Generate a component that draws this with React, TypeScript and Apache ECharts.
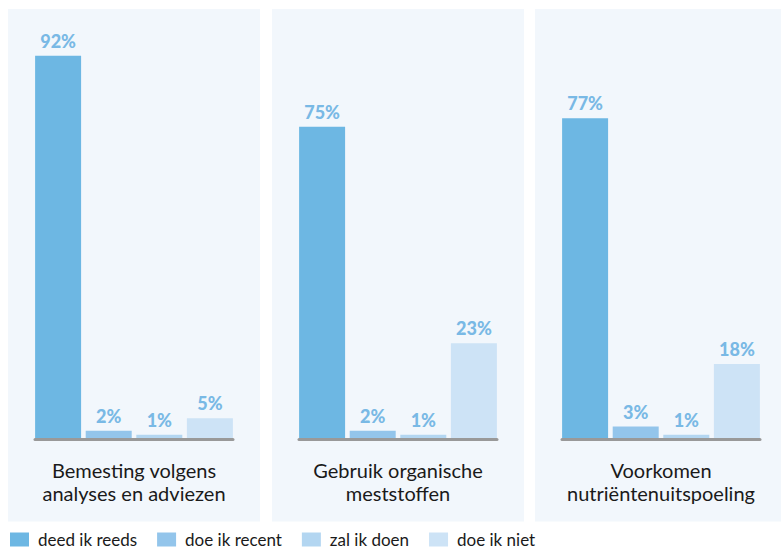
import React, { useEffect, useRef } from "react";
import * as echarts from "echarts";

const panels = [
  "Bemesting volgens\nanalyses en adviezen",
  "Gebruik organische\nmeststoffen",
  "Voorkomen\nnutriëntenuitspoeling",
];
const answers = ["deed ik reeds", "doe ik recent", "zal ik doen", "doe ik niet"];
const deedIkReeds = [92, 75, 77];
const doeIkRecent = [2, 2, 3];
const zalIkDoen = [1, 1, 1];
const doeIkNiet = [5, 23, 18];
const valuesByAnswer = [deedIkReeds, doeIkRecent, zalIkDoen, doeIkNiet];
const colors = ["#6db7e3", "#93c5eb", "#b3d6f1", "#cde3f6"];

const FONT = "Lato, 'Open Sans', sans-serif";
const panelLefts = [8, 272, 535];
const panelWidth = 252;

export default function App() {
  const ref = useRef<HTMLDivElement>(null);
  useEffect(() => {
    if (!ref.current) return;
    const chart = echarts.init(ref.current, undefined, { renderer: "svg" });
    const grids = panelLefts.map((l) => ({
      left: l + 27,
      width: 198,
      top: 22.5,
      height: 416.5,
      containLabel: false,
    }));
    const xAxes = panels.map((p, i) => ({
      type: "category" as const,
      gridIndex: i,
      data: [p],
      z: 10,
      axisLine: { show: true, lineStyle: { color: "#999999", width: 3 } },
      axisTick: { show: false },
      axisLabel: {
        margin: 19,
        fontFamily: FONT,
        fontSize: 20,
        lineHeight: 23,
        color: "#1a1a1a",
        interval: 0,
      },
    }));
    const yAxes = panels.map((_, i) => ({
      type: "value" as const,
      gridIndex: i,
      min: 0,
      max: 100,
      show: false,
    }));
    const series: any[] = [];
    panels.forEach((_, pi) => {
      answers.forEach((a, ai) => {
        series.push({
          type: "bar",
          name: a,
          xAxisIndex: pi,
          yAxisIndex: pi,
          data: [valuesByAnswer[ai][pi]],
          barWidth: 46,
          barGap: "10%",
          itemStyle: { color: colors[ai] },
          label: {
            show: true,
            position: "top",
            distance: 6,
            formatter: "{c}%",
            fontFamily: FONT,
            fontWeight: 900,
            fontSize: 18,
            color: "#79b9e5",
          },
        });
      });
    });
    chart.setOption({
      animation: false,
      color: colors,
      graphic: panelLefts.map((l) => ({
        type: "rect",
        shape: { x: l, y: 9, width: panelWidth, height: 512.5 },
        style: { fill: "#f2f7fc" },
        z: -10,
        silent: true,
      })),
      legend: {
        data: answers,
        left: 10,
        top: 531,
        itemWidth: 19,
        itemHeight: 14,
        itemGap: 20,
        icon: "rect",
        padding: 0,
        textStyle: {
          fontFamily: FONT,
          fontSize: 17,
          lineHeight: 16,
          color: "#1a1a1a",
          padding: [0, 0, 0, 4],
        },
      },
      grid: grids,
      xAxis: xAxes,
      yAxis: yAxes,
      series,
    });
    return () => chart.dispose();
  }, []);
  return (
    <div
      ref={ref}
      style={{ position: "absolute", left: 0, top: 0, width: 781, height: 549 }}
    />
  );
}
